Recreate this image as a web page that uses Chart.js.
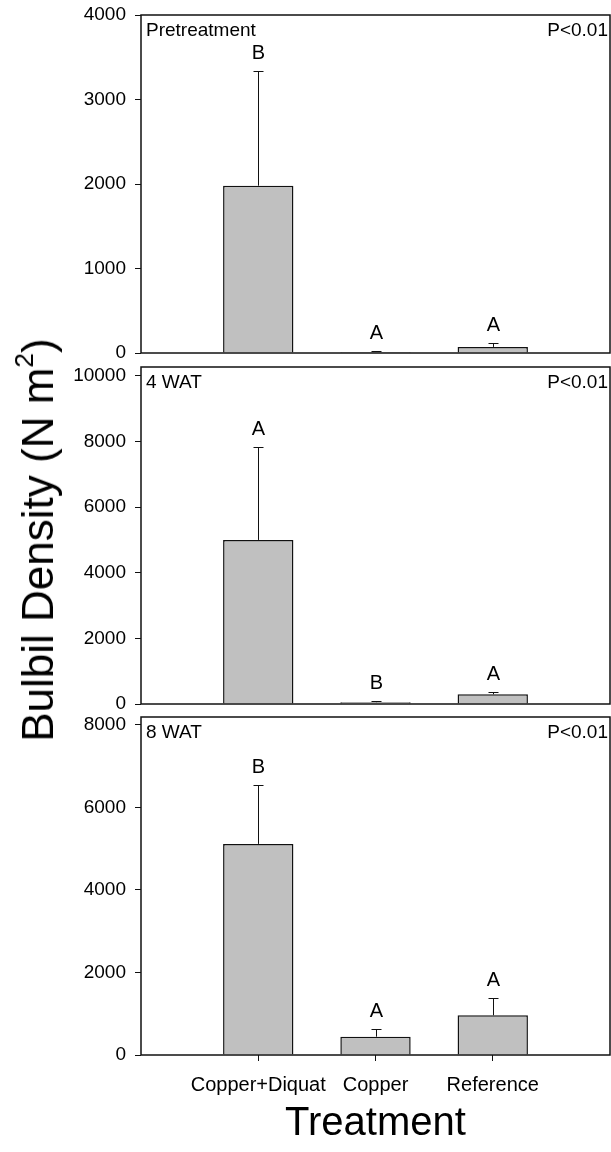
<!DOCTYPE html>
<html lang="en">
<head>
  <meta charset="UTF-8" />
  <title>Bulbil density by treatment</title>
  <script src="https://cdn.jsdelivr.net/npm/chart.js"></script>
  <style>
    body { margin: 0; background: #fff; }
    #wrap { position: relative; width: 611px; height: 1152px; background: #fff; overflow: hidden; }
    canvas { position: absolute; left: 0; }
    #ytitle {
      position: absolute; left: 38px; top: 540px; white-space: nowrap;
      font: 44px "Liberation Sans", Arial, sans-serif; color: #000;
      transform: translate(-50%, -50%) rotate(-90deg);
    }
    #ytitle sup { font-size: 0.6em; vertical-align: 0.75em; line-height: 0; }
  </style>
</head>
<body>
<div id="wrap">
  <canvas id="p1" width="611" height="362" style="top:0"></canvas>
  <canvas id="p2" width="611" height="352" style="top:360px"></canvas>
  <canvas id="p3" width="611" height="442" style="top:710px"></canvas>
  <div id="ytitle">Bulbil Density (N m<sup>2</sup>)</div>
</div>

<script>
const categories = ['Copper+Diquat', 'Copper', 'Reference'];
const panelNames = ['Pretreatment', '4 WAT', '8 WAT'];
const pLabels = ['P<0.01', 'P<0.01', 'P<0.01'];

// pretreatment
const preMeans = [1980, 12, 72];
const preErrors = [1357, 14, 43];
const preLetters = ['B', 'A', 'A'];
const preTicks = [0, 1000, 2000, 3000, 4000];

// 4 weeks after treatment
const wat4Means = [5000, 55, 296];
const wat4Errors = [2830, 30, 80];
const wat4Letters = ['A', 'B', 'A'];
const wat4Ticks = [0, 2000, 4000, 6000, 8000, 10000];

// 8 weeks after treatment
const wat8Means = [5115, 444, 962];
const wat8Errors = [1430, 180, 420];
const wat8Letters = ['B', 'A', 'A'];
const wat8Ticks = [0, 2000, 4000, 6000, 8000];

const FONT = '"Liberation Sans", Arial, sans-serif';
const INK = '#111';
Chart.defaults.font.family = FONT;
Chart.defaults.color = '#000';

// error bars, letters, frame and panel texts
const decor = {
  id: 'decor',
  afterDatasetsDraw(chart, args, o) {
    const { ctx, chartArea: a, scales: { x, y } } = chart;
    ctx.save();
    ctx.strokeStyle = INK;
    ctx.fillStyle = '#000';
    ctx.lineWidth = 1;
    ctx.font = '20px ' + FONT;
    ctx.textAlign = 'center';
    ctx.textBaseline = 'bottom';
    o.means.forEach((m, i) => {
      const px = Math.round(x.getPixelForValue(i + 1)) + 0.5;
      const y0 = y.getPixelForValue(m);
      const y1 = Math.round(y.getPixelForValue(m + o.errors[i])) + 0.5;
      ctx.beginPath();
      ctx.moveTo(px, y0);
      ctx.lineTo(px, y1);
      ctx.moveTo(px - 5, y1);
      ctx.lineTo(px + 5, y1);
      ctx.stroke();
      ctx.fillText(o.letters[i], px, y1 - 8);
    });
    ctx.lineWidth = 1.5;
    ctx.strokeRect(a.left, a.top, a.right - a.left, a.bottom - a.top);
    ctx.font = '19px ' + FONT;
    ctx.textBaseline = 'middle';
    ctx.textAlign = 'left';
    ctx.fillText(o.name, a.left + 5, a.top + 16);
    ctx.textAlign = 'right';
    ctx.fillText(o.p, a.right - 2, a.top + 16);
    ctx.restore();
  }
};

function makePanel(id, idx, means, errors, letters, ticks, yMax, pad, showX) {
  return new Chart(document.getElementById(id), {
    type: 'bar',
    data: {
      labels: ['', ...categories, ''],
      datasets: [{
        data: [null, ...means, null],
        backgroundColor: '#c0c0c0',
        borderColor: INK,
        borderWidth: 1.5,
        barPercentage: 0.6,
        categoryPercentage: 1
      }]
    },
    options: {
      responsive: false,
      animation: false,
      events: [],
      layout: { padding: pad },
      plugins: {
        legend: { display: false },
        tooltip: { enabled: false },
        decor: { means, errors, letters, name: panelNames[idx], p: pLabels[idx] }
      },
      scales: {
        x: {
          display: showX,
          offset: false,
          border: { display: false },
          grid: {
            offset: false,
            drawOnChartArea: false,
            tickLength: 6,
            tickColor: c => (c.tick && c.tick.label !== '' ? INK : 'rgba(0,0,0,0)')
          },
          ticks: { font: { size: 20 }, padding: 12, maxRotation: 0, autoSkip: false },
          title: { display: showX, text: 'Treatment', font: { size: 40 }, padding: { top: 0, bottom: 4 } },
          afterFit: s => {
            if (showX) s.height = 97;
            s.paddingLeft = 0;
            s.paddingRight = 0;
          }
        },
        y: {
          min: 0,
          max: yMax,
          border: { display: false },
          grid: { drawOnChartArea: false, tickLength: 6, tickColor: INK },
          ticks: { font: { size: 19 }, padding: 9, callback: v => String(v) },
          afterBuildTicks: s => { s.ticks = ticks.map(v => ({ value: v })); },
          afterFit: s => {
            s.width = 141;
            s.paddingTop = 0;
            s.paddingBottom = 0;
          }
        }
      }
    },
    plugins: [decor]
  });
}

makePanel('p1', 0, preMeans, preErrors, preLetters, preTicks, 4000,
  { top: 15, bottom: 9, left: 0, right: 1 }, false);
makePanel('p2', 1, wat4Means, wat4Errors, wat4Letters, wat4Ticks, 10270,
  { top: 7, bottom: 8, left: 0, right: 1 }, false);
makePanel('p3', 2, wat8Means, wat8Errors, wat8Letters, wat8Ticks, 8190,
  { top: 7, bottom: 0, left: 0, right: 1 }, true);
</script>
</body>
</html>
